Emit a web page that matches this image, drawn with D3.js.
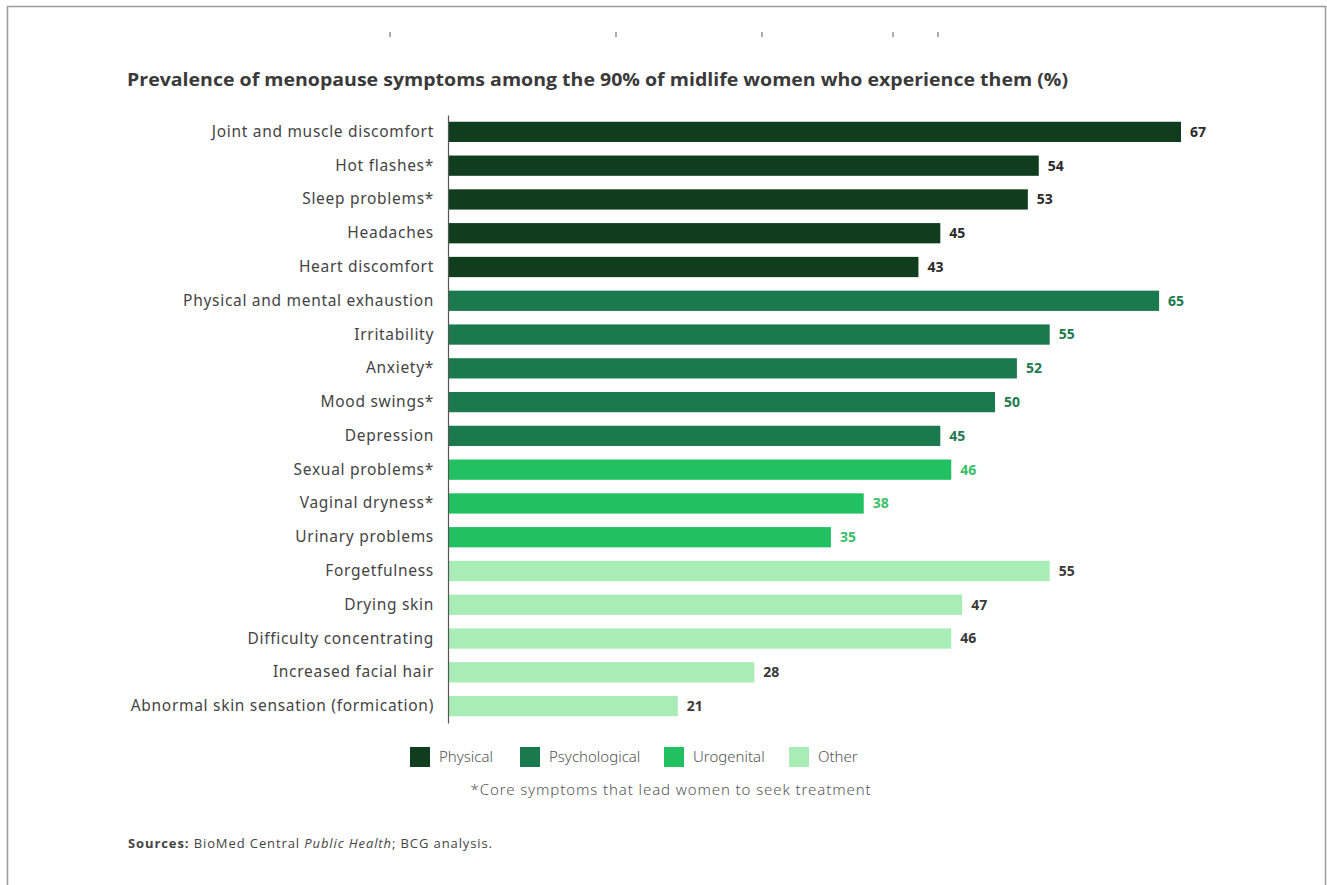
<!DOCTYPE html>
<html><head><meta charset="utf-8">
<script src="https://cdn.jsdelivr.net/npm/d3@7"></script>
<style>body{margin:0;background:#fff}svg{display:block}</style>
</head><body><svg id="c" width="1327" height="885"></svg>
<script>
const categories = ["Joint and muscle discomfort","Hot flashes*","Sleep problems*","Headaches","Heart discomfort","Physical and mental exhaustion","Irritability","Anxiety*","Mood swings*","Depression","Sexual problems*","Vaginal dryness*","Urinary problems","Forgetfulness","Drying skin","Difficulty concentrating","Increased facial hair","Abnormal skin sensation (formication)"];
const values = [67,54,53,45,43,65,55,52,50,45,46,38,35,55,47,46,28,21];
const groups = ["Physical","Physical","Physical","Physical","Physical","Psychological","Psychological","Psychological","Psychological","Psychological","Urogenital","Urogenital","Urogenital","Other","Other","Other","Other","Other"];
const groupNames = ["Physical","Psychological","Urogenital","Other"];
const barColors = ["#103d1e","#1a7a4e","#21c061","#a8edb6"];
const labelColors = ["#2b2b2b","#1e7a50","#3cbf6b","#3a3a3a"];

const svg = d3.select("#c");
const font = "'Noto Sans', sans-serif";
// frame
svg.append("path").attr("d","M7.5,885 V6.5 H1325.5 V885").attr("fill","none").attr("stroke","#9a9a9a").attr("stroke-width",1.5);
// remnants of cut-off text line
svg.append("g").selectAll("line").data([390,616,762,893,938]).join("line")
  .attr("x1",d=>d).attr("x2",d=>d).attr("y1",32).attr("y2",37).attr("stroke","#777").attr("stroke-width",1.2);

// title
svg.append("text").attr("x",127).attr("y",86).attr("font-family","'Open Sans', sans-serif").attr("font-weight",700)
  .attr("font-size",17).attr("fill","#3a3a3a").attr("textLength",941).attr("lengthAdjust","spacingAndGlyphs")
  .text("Prevalence of menopause symptoms among the 90% of midlife women who experience them (%)");

const x0 = 448;
const x = d3.scaleLinear().domain([0,67]).range([x0,1181]);
const y = d3.scaleBand().domain(categories).range([115,723]).paddingInner(0.4).paddingOuter(0.2);
const col = d3.scaleOrdinal().domain(groupNames).range(barColors);
const lcol = d3.scaleOrdinal().domain(groupNames).range(labelColors);

svg.append("g").selectAll("rect").data(categories).join("rect")
  .attr("x",x(0)).attr("y",d=>y(d)).attr("width",(d,i)=>x(values[i])-x(0)).attr("height",y.bandwidth())
  .attr("fill",(d,i)=>col(groups[i]));

const yAxis = d3.axisLeft(y).tickSize(0).tickPadding(14);
const ga = svg.append("g").attr("transform",`translate(${x0},0)`).call(yAxis);
ga.select(".domain").attr("stroke","#555").attr("stroke-width",1.2);
ga.selectAll("text").attr("font-family",font).attr("font-size",15.5).attr("letter-spacing","0.7px").attr("fill","#444");

svg.append("g").selectAll("text").data(categories).join("text")
  .attr("x",(d,i)=>x(values[i])+9).attr("y",d=>y(d)+y.bandwidth()/2).attr("dy","0.35em")
  .attr("font-family",font).attr("font-weight",700).attr("font-size",14)
  .attr("fill",(d,i)=>lcol(groups[i])).text((d,i)=>values[i]);

// legend
const legX = [410,520,664,789];
const lg = svg.append("g");
groupNames.forEach((g,i)=>{
  lg.append("rect").attr("x",legX[i]).attr("y",747).attr("width",20).attr("height",20).attr("fill",barColors[i]);
  lg.append("text").attr("x",legX[i]+29).attr("y",757).attr("dy","0.35em").attr("font-family",font).attr("font-weight",300)
    .attr("font-size",15).attr("fill","#555").text(g);
});
svg.append("text").attr("x",671).attr("y",790).attr("dy","0.35em").attr("text-anchor","middle").attr("font-family",font)
  .attr("font-weight",300).attr("font-size",15).attr("letter-spacing","0.9px").attr("fill","#555").text("*Core symptoms that lead women to seek treatment");

const src = svg.append("text").attr("x",128).attr("y",848).attr("font-family","'Open Sans', sans-serif").attr("font-size",13).attr("letter-spacing","0.9px").attr("fill","#444");
src.append("tspan").attr("font-weight",700).text("Sources:");
src.append("tspan").text(" BioMed Central ");
src.append("tspan").attr("font-style","italic").text("Public Health");
src.append("tspan").text("; BCG analysis.");
</script></body></html>
